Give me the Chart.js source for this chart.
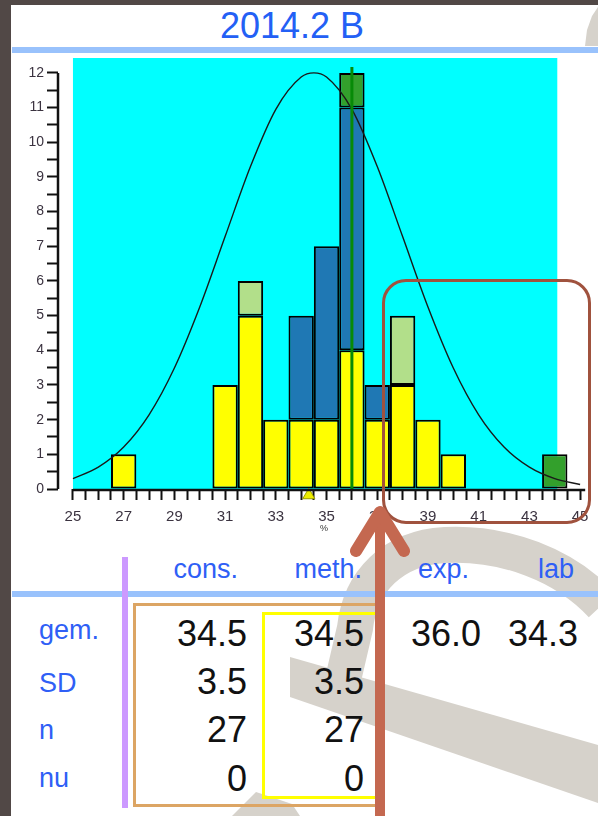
<!DOCTYPE html>
<html>
<head>
<meta charset="utf-8">
<script src="https://cdn.jsdelivr.net/npm/chart.js@4"></script>
<style>
  html, body { margin: 0; padding: 0; }
  body { width: 598px; height: 816px; background: #514846; position: relative; overflow: hidden;
         font-family: "Liberation Sans", Arial, sans-serif; }
  #slide { position: absolute; left: 11px; top: 5px; width: 587px; height: 811px; background: #fff; }
  .abs { position: absolute; }
  .hline { position: absolute; left: 12px; width: 586px; height: 6px; background: #99c2fc; z-index: 2; }
  #title { left: 0; width: 584px; top: 8px; text-align: center; font-size: 36px; line-height: 36px;
           color: #2360f5; z-index: 2; }
  .lbl { font-size: 27px; line-height: 27px; color: #2f5ff6; z-index: 2; white-space: nowrap; }
  .val { font-size: 36px; line-height: 36px; color: #111; z-index: 2; white-space: nowrap; }
  #chartBox { position: absolute; left: 12px; top: 45px; width: 586px; height: 490px; z-index: 2; }
  #deco, #overlay { position: absolute; left: 0; top: 0; }
  #deco { z-index: 1; }
  #overlay { z-index: 4; }
  #focus { position: absolute; left: 382px; top: 279px; width: 209px; height: 245px; box-sizing: border-box;
           border: 3px solid #a0523e; border-radius: 24px; z-index: 4; }
</style>
</head>
<body>
<div id="slide"></div>

<svg id="deco" width="598" height="816">
  <g fill="#d6d2cb">
    <polygon points="598,7 592,16 587,30 585,46 598,46"/>
    <polygon points="290,657 598,745 598,803 290,697"/>
    <polygon points="232,816 256,792 292,804 300,816"/>
  </g>
  <path d="M 602 605 C 565 565, 505 542, 445 545 C 392 548, 360 582, 355 628 L 342 684"
        fill="none" stroke="#d6d2cb" stroke-width="36"/>
</svg>

<div id="title" class="abs">2014.2 B</div>
<div class="hline" style="top:47px"></div>
<div class="hline" style="top:591px"></div>
<div class="abs" style="left:122px; top:557px; width:6px; height:251px; background:#cc99ff; z-index:3"></div>
<div class="abs" style="left:133px; top:603px; width:248px; height:204px; box-sizing:border-box; border:3px solid #dca564; z-index:2"></div>
<div class="abs" style="left:262px; top:612px; width:119px; height:187px; box-sizing:border-box; border:3px solid #ffff00; z-index:2"></div>

<div id="chartBox"><canvas id="chart" width="586" height="490"></canvas></div>
<div id="table"></div>

<div id="focus"></div>
<svg id="overlay" width="598" height="816">
  <line x1="380" y1="520" x2="380" y2="816" stroke="#c46850" stroke-width="10"/>
  <polyline points="356,551 380,512 404,551" fill="none" stroke="#c46850" stroke-width="12"
            stroke-linecap="round" stroke-linejoin="round"/>
</svg>

<script>
// histogram bins (bin centres, width 1 %)
const binCenters       = [27, 31, 32, 33, 34, 35, 36, 37, 38, 39, 40, 44];
const yellowCounts     = [1, 3, 5, 2, 2, 2, 4, 2, 3, 2, 1, 0];
const blueCounts       = [0, 0, 0, 0, 3, 5, 7, 1, 0, 0, 0, 0];
const lightGreenCounts = [0, 0, 1, 0, 0, 0, 0, 0, 2, 0, 0, 0];
const darkGreenCounts  = [0, 0, 0, 0, 0, 0, 1, 0, 0, 0, 0, 1];

// normal curve
const curveX = [25, 26, 27, 28, 29, 30, 31, 32, 33, 34, 34.5, 35, 36, 37, 38, 39, 40, 41, 42, 43, 44, 45];
const curveY = [0.3, 0.63, 1.21, 2.14, 3.49, 5.25, 7.28, 9.3, 10.95, 11.88, 12.0, 11.88, 10.95, 9.3, 7.28, 5.25, 3.49, 2.14, 1.21, 0.63, 0.3, 0.13];

const expValue = 36.0;      // green vertical line
const expLineTop = 12.17;
const labMean = 34.3;       // yellow marker under the axis
const markerLevel = -0.18;

// axis labels
const xTickLabels = [25, 27, 29, 31, 33, 35, 37, 39, 41, 43, 45];
const yTickLabels = [0, 1, 2, 3, 4, 5, 6, 7, 8, 9, 10, 11, 12];

// statistics table
const statCols = ['cons.', 'meth.', 'exp.', 'lab'];
const statRows = ['gem.', 'SD', 'n', 'nu'];
const consVals = ['34.5', '3.5', '27', '0'];
const methVals = ['34.5', '3.5', '27', '0'];
const expVals  = ['36.0', '', '', ''];
const labVals  = ['34.3', '', '', ''];

// --- table ---
const table = document.getElementById('table');
function addText(cls, text, top, left, right) {
    const d = document.createElement('div');
    d.className = 'abs ' + cls;
    d.textContent = text;
    d.style.top = top + 'px';
    if (left != null) d.style.left = left + 'px';
    if (right != null) d.style.right = (598 - right) + 'px';
    table.appendChild(d);
}
const headRight = [238, 362, 469, 574];
statCols.forEach((c, i) => addText('lbl', c, 556, null, headRight[i]));
const rowLabelTop = [617, 670, 717, 765];
statRows.forEach((r, i) => addText('lbl', r, rowLabelTop[i], 39, null));
const valTop = [616, 664, 712, 761];
const valRight = [247, 364, 481, 578];
[consVals, methVals, expVals, labVals].forEach((col, ci) => {
    col.forEach((v, ri) => { if (v !== '') addText('val', v, valTop[ri], null, valRight[ci]); });
});

// --- chart ---
function binData(counts) {
    return binCenters.map((x, i) => ({ x: x, y: counts[i] })).filter(p => p.y > 0);
}
const xTicks = [];
for (let v = 25; v <= 45; v += 0.5) xTicks.push(v);
const yTicks = [];
for (let v = 0; v <= 12; v += 0.5) yTicks.push(v);

const barStyle = {
    type: 'bar', stack: 'hist', order: 4,
    borderColor: '#000', borderWidth: 2, borderSkipped: false,
    categoryPercentage: 2, barPercentage: 1
};

const axisDecor = {
    id: 'axisDecor',
    beforeDatasetsDraw(chart) {
        const { ctx, chartArea, scales: { x, y } } = chart;
        const left = x.getPixelForValue(25), right = x.getPixelForValue(44.1);
        ctx.save();
        ctx.fillStyle = '#00ffff';
        ctx.fillRect(left, chartArea.top, right - left, y.getPixelForValue(0) - chartArea.top);
        ctx.restore();
    },
    afterDraw(chart) {
        const { ctx, chartArea, scales: { x, y } } = chart;
        ctx.save();
        ctx.strokeStyle = '#111';
        ctx.lineWidth = 2.5;
        ctx.beginPath();
        ctx.moveTo(chartArea.left, y.getPixelForValue(12));
        ctx.lineTo(chartArea.left, y.getPixelForValue(0));
        const base = y.getPixelForValue(0) + 1;
        ctx.moveTo(x.getPixelForValue(25), base);
        ctx.lineTo(x.getPixelForValue(45.2), base);
        ctx.stroke();
        ctx.restore();
    }
};

new Chart(document.getElementById('chart'), {
    type: 'bar',
    data: {
        datasets: [
            Object.assign({ label: 'cons', data: binData(yellowCounts), backgroundColor: '#ffff00' }, barStyle),
            Object.assign({ label: 'meth', data: binData(blueCounts), backgroundColor: '#1f78b4' }, barStyle),
            Object.assign({ label: 'other', data: binData(lightGreenCounts), backgroundColor: '#b2df8a' }, barStyle),
            Object.assign({ label: 'outlier', data: binData(darkGreenCounts), backgroundColor: '#33a02c' }, barStyle),
            {
                type: 'line', label: 'normal', stack: 'curve', order: 3,
                data: curveX.map((x, i) => ({ x: x, y: curveY[i] })),
                borderColor: '#1a1a1a', borderWidth: 1.4, pointRadius: 0, fill: false,
                cubicInterpolationMode: 'monotone'
            },
            {
                type: 'line', label: 'exp', stack: 'exp', order: 2,
                data: [{ x: expValue, y: 0 }, { x: expValue, y: expLineTop }],
                borderColor: '#078a07', borderWidth: 3, pointRadius: 0, fill: false
            },
            {
                type: 'scatter', label: 'lab', stack: 'lab', order: 1, clip: false,
                data: [{ x: labMean, y: markerLevel }],
                pointStyle: 'triangle', pointRadius: 7,
                backgroundColor: '#eded00', borderColor: '#9a9a00', borderWidth: 1
            }
        ]
    },
    options: {
        responsive: false,
        animation: false,
        layout: { padding: { top: 13, right: 3, left: 0, bottom: 0 } },
        plugins: { legend: { display: false }, tooltip: { enabled: false } },
        scales: {
            x: {
                type: 'linear', stacked: true, offset: false,
                min: 24.41, max: 45.39,
                afterBuildTicks: s => { s.ticks = xTicks.map(v => ({ value: v })); },
                afterFit: s => { s.height = 46; },
                grid: { offset: false, drawOnChartArea: false, tickLength: 11, tickColor: '#111', tickWidth: 2 },
                border: { display: false },
                ticks: {
                    autoSkip: false, maxRotation: 0, padding: 8, color: '#3b3340',
                    font: { family: 'Liberation Sans', size: 15 },
                    callback: v => xTickLabels.includes(v) ? String(v) : ''
                },
                title: { display: true, text: '%', color: '#333', font: { family: 'Liberation Sans', size: 9 },
                         padding: { top: 0, bottom: 1 } }
            },
            y: {
                stacked: true, min: 0, max: 12.43,
                afterBuildTicks: s => { s.ticks = yTicks.map(v => ({ value: v })); },
                afterFit: s => { s.width = 46; },
                grid: { drawOnChartArea: false, tickLength: 11, tickColor: '#111', tickWidth: 2 },
                border: { display: false },
                ticks: {
                    autoSkip: false, padding: 3, color: '#3b3340',
                    font: { family: 'Liberation Sans', size: 14 },
                    callback: v => yTickLabels.includes(v) ? String(v) : ''
                }
            }
        }
    },
    plugins: [axisDecor]
});
</script>
</body>
</html>
